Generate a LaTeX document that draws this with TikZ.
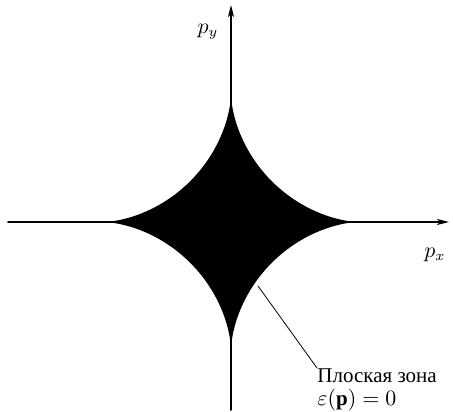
\documentclass[tikz,border=0pt]{standalone}
\usepackage{fontspec}
\setmainfont{Liberation Serif}
\usetikzlibrary{arrows.meta}

\begin{document}
\begin{tikzpicture}[x=0.5pt, y=0.5pt, line join=round, line cap=round,
    declare function={R=128; k=2.3;},
    axis/.style={line width=0.8pt, -{Stealth[length=6pt, width=3pt, inset=1.5pt]}},
    every node/.style={font=\fontsize{10.5}{11.5}\selectfont}]

    \useasboundingbox (-231,-189) rectangle (222,222);

    % flat zone
    \fill[black] plot[domain=0:360, samples=240, variable=\t]
        ({R*cos(\t)*abs(cos(\t))^k}, {R*sin(\t)*abs(sin(\t))^k}) -- cycle;

    % axes
    \coordinate (xa) at (-223,0);
    \coordinate (xb) at (218,0);
    \coordinate (ya) at (0,-188);
    \coordinate (yb) at (0,217);
    \draw[axis] (xa) -- (xb);
    \draw[axis] (ya) -- (yb);

    \node (px) at (204,-33) {$p_x$};
    \node (py) at (-23,190) {$p_y$};

    % label
    \coordinate (edge) at (27,-64);
    \node[anchor=north west, align=left, inner sep=0pt] (zona) at (86,-146)
        {Плоская зона\\$\varepsilon(\mathbf{p}) = 0$};
    \draw[line width=0.4pt] (edge) -- (zona.north west);

\end{tikzpicture}
\end{document}
